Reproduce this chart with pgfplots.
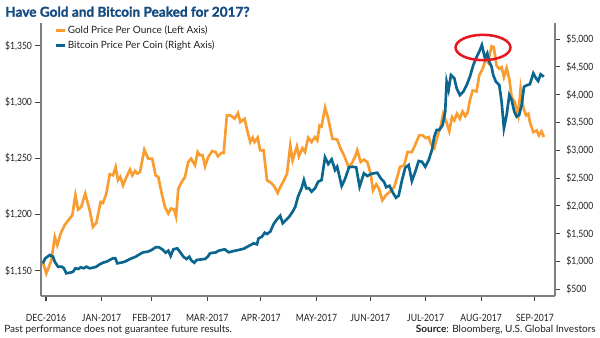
\documentclass[border=0pt]{standalone}
\usepackage{pgfplots}
\pgfplotsset{compat=1.18}
\usepackage{fontspec}
\setmainfont{Lato}
\newfontfamily\condfont{Lato}[FakeStretch=0.86]
\newfontfamily\titlefont{Lato}[BoldFeatures={FakeBold=1.5}]
\definecolor{gold}{HTML}{F99D31}
\definecolor{btc}{HTML}{0A668F}
\definecolor{ttl}{HTML}{154B80}
\definecolor{axgray}{HTML}{7F7F7F}
\definecolor{txt}{HTML}{231F20}
\definecolor{ring}{HTML}{E8161E}
\pgfplotstableread{
d v
28.2 1158.0
30.2 1147.7
33.0 1159.5
34.9 1180.2
36.3 1172.8
38.2 1183.2
40.4 1190.6
43.2 1196.5
44.7 1199.4
46.4 1217.2
47.9 1204.5
49.7 1206.8
51.9 1218.7
54.4 1203.9
56.2 1189.0
58.1 1192.6
60.5 1211.2
61.8 1210.3
63.7 1218.7
65.6 1235.8
67.4 1234.9
68.9 1242.3
70.2 1230.5
71.5 1233.4
73.0 1226.0
74.8 1232.9
76.9 1240.0
78.2 1234.9
79.7 1238.7
81.0 1236.4
82.5 1237.8
84.9 1257.7
87.1 1249.7
89.3 1249.7
91.2 1234.9
92.7 1233.4
94.6 1218.7
96.4 1206.8
98.3 1200.9
99.8 1205.4
101.5 1204.5
102.6 1198.5
103.9 1223.1
105.8 1229.0
107.6 1233.4
109.4 1246.7
111.0 1249.7
113.2 1243.8
114.7 1255.6
116.0 1252.7
117.5 1252.7
118.8 1242.9
120.6 1251.2
122.8 1256.5
124.7 1255.6
126.0 1251.8
127.9 1254.7
129.2 1254.7
131.0 1288.2
132.9 1288.2
135.4 1285.2
137.2 1290.2
138.5 1282.2
140.9 1285.2
142.8 1271.9
144.1 1264.5
145.4 1268.4
146.5 1264.5
148.2 1268.4
149.6 1257.1
151.5 1257.1
153.4 1230.5
155.8 1228.1
157.7 1224.5
159.4 1219.2
160.8 1224.5
162.7 1229.9
164.6 1236.4
166.4 1261.5
167.7 1248.2
170.1 1260.6
171.2 1251.8
173.2 1259.0
174.6 1255.6
176.4 1268.4
178.3 1264.5
180.2 1268.9
181.5 1266.0
182.8 1279.3
183.9 1278.4
185.8 1295.0
187.6 1285.2
189.9 1267.5
192.6 1266.6
194.5 1258.6
196.4 1252.7
198.8 1242.9
200.7 1245.3
202.5 1251.2
203.8 1257.1
205.7 1246.7
207.5 1248.8
209.4 1246.7
211.3 1236.4
212.6 1221.6
214.4 1226.9
215.9 1223.1
217.8 1212.7
220.0 1217.6
221.9 1220.1
224.4 1224.5
226.4 1234.9
227.6 1242.3
230.0 1243.8
231.9 1255.6
234.3 1255.6
236.2 1262.2
238.4 1270.4
240.3 1270.4
242.2 1268.0
243.7 1268.9
244.9 1263.0
246.8 1259.1
248.7 1270.4
250.5 1279.3
251.8 1289.7
253.7 1281.7
255.2 1274.0
256.7 1286.6
258.0 1283.7
259.5 1289.7
261.1 1285.2
262.6 1291.7
264.1 1287.5
265.4 1290.6
266.7 1301.5
268.2 1310.3
270.4 1309.4
271.9 1323.6
273.8 1329.6
275.6 1338.5
276.8 1335.4
278.8 1349.6
280.0 1348.8
281.6 1332.5
283.0 1329.6
284.4 1331.0
285.7 1322.1
287.2 1330.1
288.7 1320.7
290.0 1304.4
291.8 1300.0
293.7 1288.2
295.0 1311.8
296.5 1295.5
298.0 1288.2
299.3 1289.7
300.2 1282.2
302.1 1273.3
304.0 1274.8
305.2 1270.4
306.7 1274.0
308.0 1268.9
}\golddata
\pgfplotstableread{
d v
28.2 967
29.6 1057
32.1 1117
33.9 1086
34.9 996
36.7 906
38.9 906
40.0 878
41.3 788
43.2 798
45.1 816
46.4 878
47.9 865
49.4 896
51.0 878
52.5 906
54.4 878
56.2 888
58.1 906
60.0 950
61.8 978
63.7 996
65.6 1027
67.4 1057
68.7 1057
69.8 967
71.7 978
73.9 996
75.9 1027
77.8 1057
80.1 1086
82.5 1135
84.3 1165
86.8 1176
89.0 1207
91.2 1255
93.1 1255
94.9 1219
96.8 1158
98.3 1194
99.6 1099
101.1 1219
103.3 1237
105.4 1147
106.7 1086
108.5 1045
110.0 1086
111.3 1014
112.8 978
114.1 1027
116.9 1039
118.8 1045
120.3 1086
121.6 1147
123.4 1158
124.7 1162
126.4 1194
129.8 1219
132.0 1165
134.8 1189
137.6 1207
140.4 1230
143.2 1279
146.0 1327
147.8 1309
148.7 1417
150.6 1446
152.1 1518
153.4 1494
155.2 1536
157.1 1674
159.0 1759
160.8 1823
162.2 1687
164.0 1746
165.8 1805
167.7 1895
169.2 1985
170.7 2165
172.7 2316
174.0 2465
175.3 2316
176.8 2316
178.3 2255
180.2 2316
182.0 2435
183.9 2465
185.8 2873
187.6 2753
189.5 2837
191.4 2645
192.6 2704
195.1 2357
196.9 2478
199.2 2694
201.0 2704
203.2 2694
205.1 2345
207.5 2586
209.4 2537
211.3 2573
213.1 2586
215.0 2596
216.9 2496
218.7 2435
220.0 2336
221.8 2361
223.9 2226
225.4 2147
226.9 2183
228.8 2465
230.6 2686
232.5 2735
234.3 2447
236.2 2614
238.1 2807
239.9 2794
241.8 2704
243.7 2825
245.5 3005
246.8 3244
248.1 3364
249.6 3364
251.5 3454
252.9 3693
253.7 4233
254.8 4083
256.1 4353
258.0 4294
259.3 4114
261.1 3993
263.0 4053
264.9 4173
266.7 4323
268.6 4533
270.1 4653
271.9 4772
273.4 4893
275.1 4653
276.4 4743
277.5 4592
278.8 4502
279.7 4353
281.2 4233
283.1 4173
284.4 3873
285.7 3395
287.2 3634
288.7 3993
290.0 3904
291.5 3693
292.8 3603
294.2 3634
295.6 3814
296.9 4143
298.7 4173
300.2 4186
302.1 4384
303.6 4294
304.8 4245
306.2 4366
308.0 4323
}\btcdata
\begin{document}
\begin{tikzpicture}
\pgfplotsset{
  base/.style={
    scale only axis, width=385.7pt, height=205.1pt,
    at={(30.525pt,-222pt)}, anchor=south west,
    xmin=27.04, xmax=314.2,
    axis line style={-, draw=axgray, line width=1.5pt},
    tick style={draw=txt!85, line width=0.8pt},
    major tick length=4pt, tick align=outside,
    ticklabel style={font=\condfont\fontsize{7.5}{9}\selectfont, text=txt},
    /pgf/number format/assume math mode=true,
  }}
\begin{axis}[base, axis y line*=left, axis x line*=bottom,
  ymin=1127.6, ymax=1370.7,
  ytick={1150,1200,1250,1300,1350},
  yticklabels={{\$1,150},{\$1,200},{\$1,250},{\$1,300},{\$1,350}},
  xtick={30,61,89,120,150,181,211,242,273,303},
  xticklabels={DEC-2016,JAN-2017,FEB-2017,MAR-2017,APR-2017,MAY-2017,JUN-2017,JUL-2017,AUG-2017,SEP-2017},
  xticklabel style={yshift=-6pt},
  yticklabel style={xshift=1pt},
  legend cell align=left,
  legend image code/.code={\draw[#1, line width=2.2pt] (0pt,0pt) -- (6.75pt,0pt);},
  legend style={at={(0.018,1.006)}, anchor=north west, draw=none, fill=none,
    font=\fontsize{7.5}{9}\selectfont, text=txt, row sep=1.5pt,
    nodes={inner sep=1.2pt}},
]
\addplot[gold, line width=2pt] table[x=d, y=v] {\golddata};
\addlegendentry{Gold Price Per Ounce (Left Axis)}
\addlegendimage{btc, line width=2pt}
\addlegendentry{Bitcoin Price Per Coin (Right Axis)}
\end{axis}
\begin{axis}[base, axis y line*=right, axis x line=none,
  ymin=379.5, ymax=5296.6,
  ytick={500,1000,1500,2000,2500,3000,3500,4000,4500,5000},
  yticklabels={{\$500},{\$1,000},{\$1,500},{\$2,000},{\$2,500},{\$3,000},{\$3,500},{\$4,000},{\$4,500},{\$5,000}},
  yticklabel style={xshift=1pt},
]
\addplot[btc, line width=2pt] table[x=d, y=v] {\btcdata};
\end{axis}
\begin{scope}[x=0.75pt, y=-0.75pt]
\path[use as bounding box] (0,0) rectangle (600,337);
\node[anchor=base west, inner sep=0pt, text=ttl, font=\titlefont\fontsize{10.2}{12}\selectfont\bfseries] at (5,16.7) {Have Gold and Bitcoin Peaked for 2017?};
\node[anchor=base west, inner sep=0pt, text=txt, font=\fontsize{7.5}{9}\selectfont] at (4,332) {Past performance does not guarantee future results.};
\node[anchor=base east, inner sep=0pt, text=txt, font=\fontsize{7.5}{9}\selectfont] at (596,332) {\textbf{Source}: Bloomberg, U.S. Global Investors};
\draw[ring, line width=1.9pt] (483,47.5) ellipse [x radius=20.6pt, y radius=9.5pt];
\end{scope}
\end{tikzpicture}
\end{document}
